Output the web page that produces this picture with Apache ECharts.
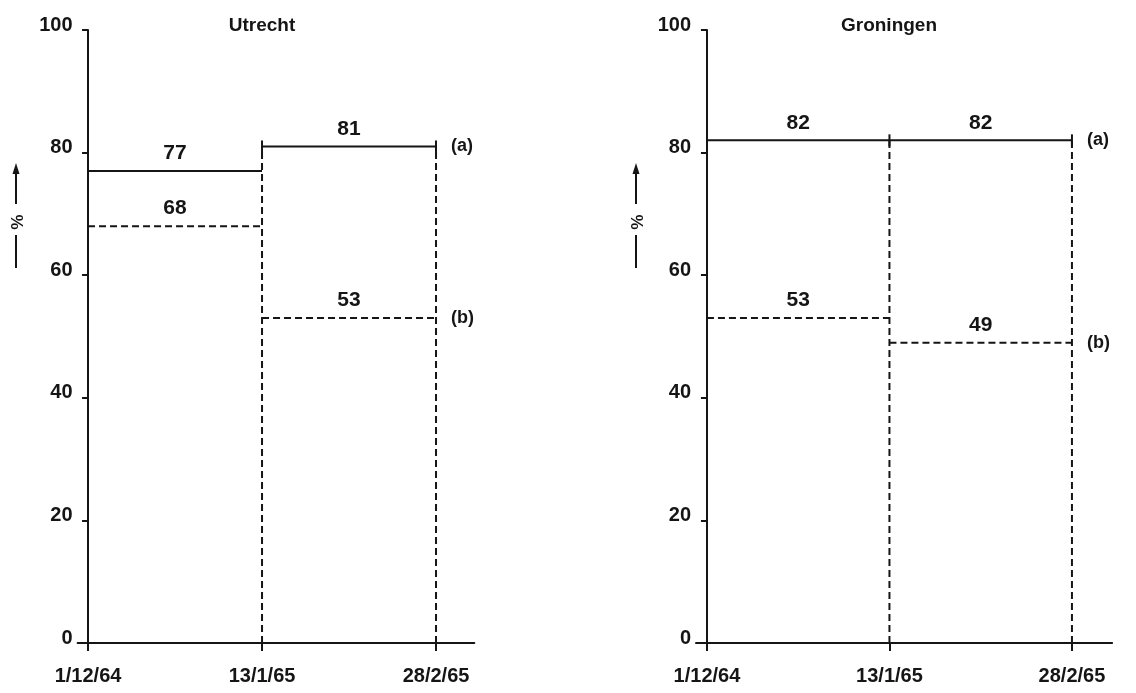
<!DOCTYPE html>
<html>
<head>
<meta charset="utf-8">
<script src="https://cdn.jsdelivr.net/npm/echarts@6/dist/echarts.min.js"></script>
<style>
html,body{margin:0;padding:0;background:#fff;}
#c{width:1136px;height:693px;}
</style>
</head>
<body>
<div id="c"></div>
<script>
// ---- data ----
const xLabels = ['1/12/64', '13/1/65', '28/2/65'];
const xTickPos = [0, 1, 2];
const yTicks = [0, 20, 40, 60, 80, 100];
const panelTitles = ['Utrecht', 'Groningen'];
const seriesTags = ['(a)', '(b)'];
const utrechtA = [77, 81];
const utrechtB = [68, 53];
const groningenA = [82, 82];
const groningenB = [53, 49];

// ---- helpers ----
const FONT = "'Liberation Sans', Arial, sans-serif";
const INK = '#151515';

function stepData(vals) {
  return [[0, vals[0]], [1, vals[0]], [1, '-'], [1, vals[1]], [2, vals[1]]];
}

const grids = [
  { left: 77.6, width: 396.7, top: 30, bottom: 50 },
  { left: 696, width: 416.1, top: 30, bottom: 50 }
];

const xAxes = [], yAxes = [], series = [];

function buildPanel(i, A, B) {
  xAxes.push({
    type: 'value', gridIndex: i, min: -0.06, max: 2.22,
    splitLine: { show: false },
    axisLine: { show: true, onZero: true, lineStyle: { color: INK, width: 2 } },
    axisTick: { show: true, customValues: xTickPos, length: 8, lineStyle: { color: INK, width: 2 } },
    axisLabel: {
      show: true, customValues: xTickPos, margin: 23,
      formatter: v => xLabels[Math.round(v)] || '',
      color: INK, fontFamily: FONT, fontWeight: 'bold', fontSize: 20
    }
  });
  yAxes.push({
    type: 'value', gridIndex: i, min: yTicks[0], max: yTicks[yTicks.length - 1], interval: 20,
    splitLine: { show: false },
    axisLine: { show: true, onZero: true, lineStyle: { color: INK, width: 2 } },
    axisTick: { show: true, length: 6, lineStyle: { color: INK, width: 2 } },
    axisLabel: {
      show: true, margin: 5, verticalAlign: 'bottom', lineHeight: 10,
      color: INK, fontFamily: FONT, fontWeight: 'bold', fontSize: 20
    }
  });
  const dash = [7, 4];
  // (a) solid line
  series.push({
    type: 'line', xAxisIndex: i, yAxisIndex: i, data: stepData(A),
    symbol: 'none', connectNulls: false,
    lineStyle: { color: INK, width: 2 },
    endLabel: { show: true, formatter: seriesTags[0], distance: 15, color: INK,
      fontFamily: FONT, fontWeight: 'bold', fontSize: 18 },
    z: 3
  });
  // (b) dashed line
  series.push({
    type: 'line', xAxisIndex: i, yAxisIndex: i, data: stepData(B),
    symbol: 'none', connectNulls: false,
    lineStyle: { color: INK, width: 2, type: dash },
    endLabel: { show: true, formatter: seriesTags[1], distance: 15, color: INK,
      fontFamily: FONT, fontWeight: 'bold', fontSize: 18 },
    z: 3
  });
  // vertical dashed boundaries
  series.push({
    type: 'line', xAxisIndex: i, yAxisIndex: i,
    data: [[1, 0], [1, Math.max(A[0], A[1])], [1, '-'], [2, 0], [2, A[1]]],
    symbol: 'none', connectNulls: false,
    lineStyle: { color: INK, width: 2, type: dash },
    z: 2
  });
  // caps on (a) second segment
  series.push({
    type: 'scatter', xAxisIndex: i, yAxisIndex: i,
    data: [[1, A[1]], [2, A[1]]],
    symbol: 'rect', symbolSize: [2, 12],
    itemStyle: { color: INK, opacity: 1 }, z: 4
  });
  // value labels
  series.push({
    type: 'scatter', xAxisIndex: i, yAxisIndex: i,
    data: [[0.5, A[0]], [1.5, A[1]], [0.5, B[0]], [1.5, B[1]]],
    symbolSize: 0, itemStyle: { color: INK, opacity: 1 },
    label: { show: true, position: 'top', distance: 7, formatter: p => p.value[1],
      color: INK, fontFamily: FONT, fontWeight: 'bold', fontSize: 21 },
    z: 5
  });
}

buildPanel(0, utrechtA, utrechtB);
buildPanel(1, groningenA, groningenB);

function pctArrow(x) {
  return {
    type: 'group',
    children: [
      { type: 'line', shape: { x1: x, y1: 204, x2: x, y2: 170 }, style: { stroke: INK, lineWidth: 2 } },
      { type: 'polygon', shape: { points: [[x, 163], [x - 3.5, 174], [x + 3.5, 174]] }, style: { fill: INK } },
      { type: 'text', x: x, y: 222, rotation: -Math.PI / 2,
        style: { text: '%', align: 'center', verticalAlign: 'middle', fill: INK,
          font: "bold 17px 'Liberation Sans', Arial, sans-serif" } },
      { type: 'line', shape: { x1: x, y1: 235, x2: x, y2: 268 }, style: { stroke: INK, lineWidth: 2 } }
    ]
  };
}

const chart = echarts.init(document.getElementById('c'), null, { renderer: 'canvas' });
chart.setOption({
  backgroundColor: '#ffffff',
  animation: false,
  grid: grids,
  xAxis: xAxes,
  yAxis: yAxes,
  series: series,
  graphic: [
    { type: 'text', x: 262, y: 26,
      style: { text: panelTitles[0], align: 'center', verticalAlign: 'middle', fill: INK,
        font: "bold 19px 'Liberation Sans', Arial, sans-serif" } },
    { type: 'text', x: 889, y: 26,
      style: { text: panelTitles[1], align: 'center', verticalAlign: 'middle', fill: INK,
        font: "bold 19px 'Liberation Sans', Arial, sans-serif" } },
    pctArrow(16),
    pctArrow(636)
  ]
});
</script>
</body>
</html>
